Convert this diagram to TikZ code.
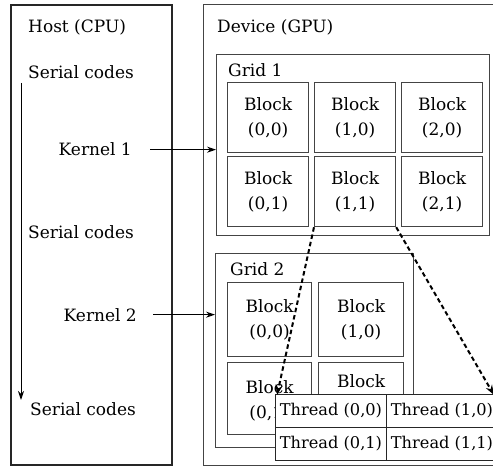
\documentclass[tikz,border=0pt]{standalone}
\usepackage{fontspec}
\setmainfont{DejaVu Serif}
\usetikzlibrary{arrows.meta}

\definecolor{framegray}{HTML}{444444}

\tikzset{
  lbl/.style={inner sep=0pt},
  hostframe/.style={draw=black!85, line width=2.4pt, anchor=north west, inner sep=0pt},
  frame/.style={draw=framegray, line width=1.2pt, anchor=north west, inner sep=0pt},
  blockbox/.style={frame, minimum width=81pt, minimum height=70pt, align=center},
  threadcell/.style={draw=black!85, line width=1pt, fill=white, anchor=north west,
    inner sep=0pt, minimum width=111pt, minimum height=33pt,
    font=\fontsize{16.2}{20}\selectfont},
  flow/.style={line width=1pt, -{Stealth[length=9pt, width=6pt]}},
  launch/.style={line width=1pt, -{Stealth[length=9pt, width=6pt]}},
  zoomline/.style={line width=2pt, dash pattern=on 4.5pt off 3pt,
    -{Stealth[length=10pt, width=7pt]}},
}

\begin{document}
\begin{tikzpicture}[x=1pt, y=-1pt, font=\fontsize{17}{25}\selectfont]
\useasboundingbox (0,0) rectangle (493,468);

% host side
\node[hostframe, minimum width=161pt, minimum height=460pt] (host) at (10,4) {};
\node[lbl, anchor=base west] (hostlbl) at (28,33) {Host (CPU)};
\node[lbl, anchor=base west] (ser1) at (28,79) {Serial codes};
\node[lbl, anchor=base east] (k1) at (132,156) {Kernel 1};
\node[lbl, anchor=base west] (ser2) at (28,238) {Serial codes};
\node[lbl, anchor=base east] (k2) at (137,321) {Kernel 2};
\node[lbl, anchor=base west] (ser3) at (30,415) {Serial codes};
\coordinate (flowtop) at (21,83);
\coordinate (flowend) at (21,400);
\draw[flow] (flowtop) -- (flowend);

% device side
\node[frame, minimum width=293pt, minimum height=461pt] (dev) at (203,4) {};
\node[lbl, anchor=base west] (devlbl) at (217,33) {Device (GPU)};

% grid 1
\node[frame, minimum width=273pt, minimum height=181pt] (grid1) at (216,54) {};
\node[lbl, anchor=base west] (g1lbl) at (228,77) {Grid 1};
\node[blockbox] (a00) at (227,82)  {Block\\(0,0)};
\node[blockbox] (a10) at (314,82)  {Block\\(1,0)};
\node[blockbox] (a20) at (401,82)  {Block\\(2,0)};
\node[blockbox] (a01) at (227,156) {Block\\(0,1)};
\node[blockbox] (a11) at (314,156) {Block\\(1,1)};
\node[blockbox] (a21) at (401,156) {Block\\(2,1)};

% grid 2
\node[frame, minimum width=198pt, minimum height=194pt] (grid2) at (215,253) {};
\node[lbl, anchor=base west] (g2lbl) at (230,275) {Grid 2};
\node[blockbox, minimum width=84pt, minimum height=74pt] (b00) at (227,282) {Block\\(0,0)};
\node[blockbox, minimum width=85pt, minimum height=74pt] (b10) at (318,282) {Block\\(1,0)};
\node[blockbox, minimum width=84pt, minimum height=72pt] (b01) at (227,362) {};
\node[blockbox, minimum width=85pt, minimum height=72pt] (b11) at (318,362) {};
% labels of the lower blocks sit partly under the thread table
\node[lbl, align=center, anchor=base] (b01txt) at (b01.center |- 0,418) {Block\\(0,1)};
\node[lbl, align=center, anchor=base] (b11txt) at (b11.center |- 0,412) {Block\\(1,1)};

% kernel launches
\draw[launch] ([xshift=18pt]k1.east) -- (k1.east -| grid1.west);
\draw[launch] ([xshift=16pt]k2.east) -- (k2.east -| grid2.west);

% threads of one block
\node[threadcell] (t00) at (275,394) {Thread (0,0)};
\node[threadcell] (t10) at (386,394) {Thread (1,0)};
\node[threadcell] (t01) at (275,427) {Thread (0,1)};
\node[threadcell] (t11) at (386,427) {Thread (1,1)};

\draw[zoomline] (a11.south west) -- ([xshift=2pt, yshift=-1pt]t00.north west);
\draw[zoomline] (a11.south east) -- ([xshift=-4pt, yshift=-1pt]t10.north east);
\end{tikzpicture}
\end{document}
